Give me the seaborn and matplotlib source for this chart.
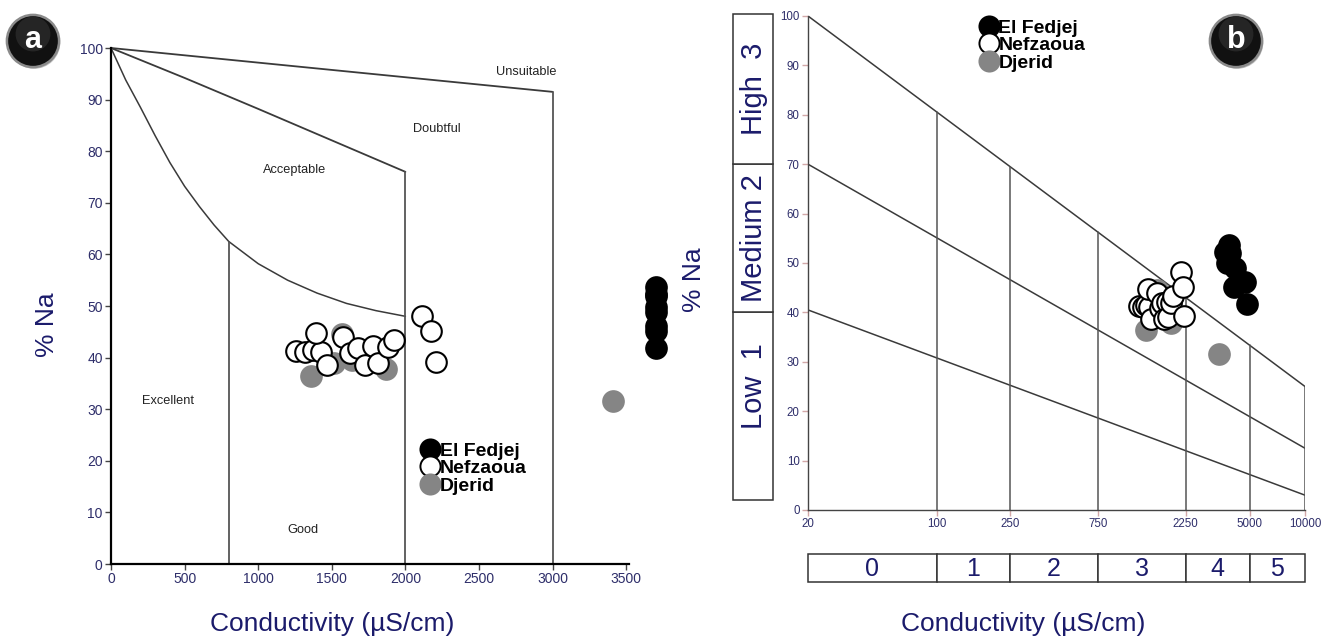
import numpy as np
import matplotlib
matplotlib.use("Agg")
import matplotlib.pyplot as plt
import seaborn as sns
from matplotlib.lines import Line2D
from matplotlib.patches import Rectangle, Circle

# ---- groundwater samples: electrical conductivity (µS/cm) and sodium (%) ----
fedjej_ec = [3850, 3700, 3930, 3750, 4190, 4750, 4100, 4840]
fedjej_na = [53.6, 52.3, 52.0, 49.9, 48.9, 46.2, 45.2, 41.8]

nefzaoua_ec = [1259, 1320, 1372, 1424, 1396, 1464, 1575, 1622, 1677,
               1724, 1779, 1813, 1880, 1921, 2111, 2177, 2211]
nefzaoua_na = [41.3, 41.0, 41.5, 41.1, 44.8, 38.6, 44.0, 40.9, 41.9,
               38.6, 42.2, 39.0, 42.0, 43.4, 48.1, 45.2, 39.2]

djerid_ec = [1362, 1516, 1566, 1640, 1871, 3410]
djerid_na = [36.4, 38.9, 44.5, 39.5, 37.8, 31.6]

groups = ["El Fedjej", "Nefzaoua", "Djerid"]

# ---- Wilcox diagram boundaries ----
unsuit_ec = [0, 3000]
unsuit_na = [100, 91.5]
doubt_ec = [0, 500, 1000, 1500, 2000]
doubt_na = [100, 94.2, 88.2, 82.1, 76.0]
accept_ec = [0, 100, 200, 300, 400, 500, 600, 700, 800, 1000, 1200, 1400, 1600, 1800, 2000]
accept_na = [100, 93.8, 88.5, 83.0, 77.8, 73.2, 69.3, 65.7, 62.5, 58.2, 55.0, 52.5, 50.5, 49.1, 48.0]
wilcox_vlines = [(800, 62.5), (2000, 76.0), (3000, 91.5)]
wilcox_zones = ["Unsuitable", "Doubtful", "Acceptable", "Excellent", "Good"]
wilcox_zone_xy = [(2824, 95.3), (2213, 84.3), (1249, 76.4), (387, 31.6), (1303, 6.6)]

# ---- USSL-type classification ----
ec_breaks = [20, 100, 250, 750, 2250, 5000, 10000]
ec_classes = ["0", "1", "2", "3", "4", "5"]
na_lines_start = [100, 70, 40.5]
na_lines_end = [25, 12.5, 3]
na_classes = ["Low  1", "Medium 2", "High  3"]
na_class_bounds = [(2, 40), (40, 70), (70, 100.4)]

W, H = 1325, 638
NAVY = "#1b1b6b"
TICK_TXT = "#2e2e6a"
GRAY = "#858585"
LINE = "#3a3a3a"

sns.set_style("white")
plt.rcParams["font.family"] = ["Liberation Sans", "DejaVu Sans"]

fig = plt.figure(figsize=(W / 100, H / 100), dpi=100)


def px_box(x0, y0, x1, y1):
    return [x0 / W, 1 - y1 / H, (x1 - x0) / W, (y1 - y0) / H]


MK = dict(s=220, linewidth=1.5, clip_on=False, zorder=5, legend=False)


def draw_points(ax, fedjej_x):
    sns.scatterplot(x=djerid_ec, y=djerid_na, color=GRAY, edgecolor=GRAY, ax=ax, **MK)
    sns.scatterplot(x=nefzaoua_ec, y=nefzaoua_na, color="white", edgecolor="black", ax=ax, **MK)
    sns.scatterplot(x=fedjej_x, y=fedjej_na, color="black", edgecolor="black", ax=ax, **MK)


def add_legend(ax, x, y):
    specs = [("black", "black"), ("white", "black"), (GRAY, GRAY)]
    handles = [Line2D([], [], ls="none", marker="o", ms=14.5, mfc=f, mec=e, mew=1.4)
               for f, e in specs]
    leg = ax.legend(handles, groups, loc="upper left", bbox_to_anchor=(x / W, 1 - y / H),
                    bbox_transform=fig.transFigure, frameon=False,
                    prop=dict(weight="bold", size=14), handlelength=0.8,
                    handletextpad=0.1, labelspacing=0.0, borderpad=0, borderaxespad=0)
    for t in leg.get_texts():
        t.set_color("black")


def badge(letter, cx, cy, d=52):
    bax = fig.add_axes(px_box(cx - d / 2 - 3, cy - d / 2 - 3, cx + d / 2 + 3, cy + d / 2 + 3))
    bax.set_xlim(0, 1)
    bax.set_ylim(0, 1)
    bax.axis("off")
    bax.add_patch(Circle((0.52, 0.47), 0.45, fc="#9a9a9a", ec="none", alpha=0.6))
    bax.add_patch(Circle((0.5, 0.5), 0.45, fc="#111111", ec="#8a8a8a", lw=1.8))
    bax.add_patch(Circle((0.5, 0.62), 0.3, fc="#3a3a3a", ec="none", alpha=0.5))
    bax.text(0.5, 0.52, letter, ha="center", va="center", color="white",
             fontsize=22, fontweight="bold")


# ================= panel a : Wilcox diagram =================
ax_a = fig.add_axes(px_box(111, 48, 663, 564))
XMAX_A = 3750
ax_a.set_xlim(0, XMAX_A)
ax_a.set_ylim(0, 100)
for s in ("top", "right"):
    ax_a.spines[s].set_visible(False)
ax_a.spines["left"].set_color("black")
ax_a.spines["left"].set_linewidth(1.6)
ax_a.spines["bottom"].set_color("black")
ax_a.spines["bottom"].set_linewidth(1.6)
ax_a.spines["bottom"].set_bounds(0, 3520)

ax_a.plot(unsuit_ec, unsuit_na, color=LINE, lw=1.3, clip_on=False)
ax_a.plot(doubt_ec, doubt_na, color=LINE, lw=1.3, clip_on=False)
ax_a.plot(accept_ec, accept_na, color=LINE, lw=1.1, clip_on=False)
for xv, top in wilcox_vlines:
    ax_a.plot([xv, xv], [0, top], color="#555555", lw=1.3)
for name, (zx, zy) in zip(wilcox_zones, wilcox_zone_xy):
    ax_a.text(zx, zy, name, ha="center", va="center", fontsize=9.2, color="#222222")

# samples beyond the conductivity axis are parked at its right margin
draw_points(ax_a, np.minimum(fedjej_ec, 3700))

ax_a.set_xticks(np.arange(0, 3501, 500))
ax_a.set_yticks(np.arange(0, 101, 10))
ax_a.tick_params(axis="both", direction="out", length=4, width=1, color="#444444",
                 labelsize=10, labelcolor=TICK_TXT, pad=2, left=True, bottom=True)
ax_a.set_xlabel("")
ax_a.set_ylabel("")
add_legend(ax_a, 422, 442)

fig.text(47 / W, 1 - 325 / H, "% Na", rotation=90, ha="center", va="center",
         fontsize=19, color=NAVY)
fig.text(332 / W, 1 - 624 / H, "Conductivity (µS/cm)", ha="center", va="center",
         fontsize=19, color=NAVY)

# ================= panel b : classification by conductivity =================
ax_b = fig.add_axes(px_box(808, 16, 1305, 510))
ax_b.set_xscale("log")
ax_b.set_xlim(ec_breaks[0], ec_breaks[-1])
ax_b.set_ylim(0, 100)
for s in ("top", "right"):
    ax_b.spines[s].set_visible(False)
for s in ("left", "bottom"):
    ax_b.spines[s].set_color("#444444")
    ax_b.spines[s].set_linewidth(1.0)

lx = np.log10(ec_breaks)
for y0, y1 in zip(na_lines_start, na_lines_end):
    ax_b.plot([ec_breaks[0], ec_breaks[-1]], [y0, y1], color=LINE, lw=1.1)
top_at = np.interp(lx, [lx[0], lx[-1]], [na_lines_start[0], na_lines_end[0]])
for xv, top in zip(ec_breaks[1:], top_at[1:]):
    ax_b.plot([xv, xv], [0, top], color="#555555", lw=1.1)

draw_points(ax_b, fedjej_ec)

ax_b.set_xticks(ec_breaks)
ax_b.set_xticklabels([str(v) for v in ec_breaks])
ax_b.xaxis.set_minor_locator(matplotlib.ticker.NullLocator())
ax_b.set_yticks(np.arange(0, 101, 10))
ax_b.tick_params(axis="both", direction="out", length=4, width=1, color="#d2a8a8",
                 labelsize=8.3, labelcolor=TICK_TXT, pad=2, left=True, bottom=True)
ax_b.set_xlabel("")
ax_b.set_ylabel("")
add_legend(ax_b, 981, 19)

# sodium class boxes along the left
ax_na = fig.add_axes(px_box(733, 16, 773, 510))
ax_na.set_xlim(0, 1)
ax_na.set_ylim(0, 100)
ax_na.axis("off")
for name, (lo, hi) in zip(na_classes, na_class_bounds):
    ax_na.add_patch(Rectangle((0, lo), 1, hi - lo, fc="white", ec="#333333", lw=1.1,
                              clip_on=False))
    mid = (lo + hi) / 2 + (4 if lo < 10 else 0)
    ax_na.text(0.52, mid, name, rotation=90, ha="center", va="center",
               fontsize=21, color=NAVY)

# conductivity class boxes along the bottom
ax_ec = fig.add_axes(px_box(808, 554, 1305, 582))
ax_ec.set_xscale("log")
ax_ec.set_xlim(ec_breaks[0], ec_breaks[-1])
ax_ec.set_ylim(0, 1)
ax_ec.axis("off")
for name, lo, hi in zip(ec_classes, ec_breaks[:-1], ec_breaks[1:]):
    ax_ec.add_patch(Rectangle((lo, 0), hi - lo, 1, fc="white", ec="#333333", lw=1.1,
                              clip_on=False))
    ax_ec.text(np.sqrt(lo * hi), 0.45, name, ha="center", va="center",
               fontsize=18, color=NAVY)

fig.text(694 / W, 1 - 280 / H, "% Na", rotation=90, ha="center", va="center",
         fontsize=19, color=NAVY)
fig.text(1023 / W, 1 - 624 / H, "Conductivity (µS/cm)", ha="center", va="center",
         fontsize=19, color=NAVY)

badge("a", 33, 41)
badge("b", 1236, 41)

fig.savefig("out.png", dpi=100, facecolor="white")
